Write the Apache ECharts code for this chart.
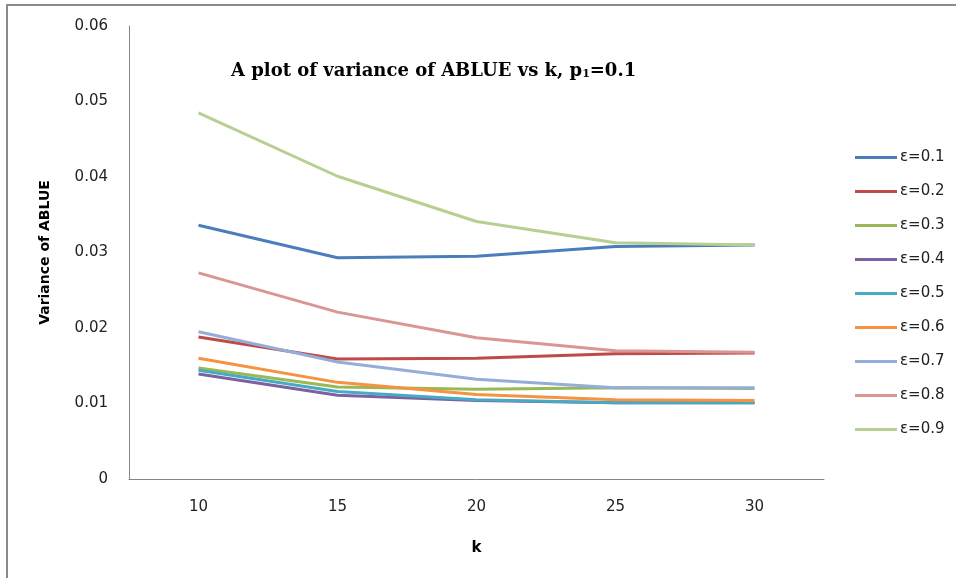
<!DOCTYPE html>
<html>
<head>
<meta charset="utf-8">
<script src="https://cdn.jsdelivr.net/npm/echarts@6/dist/echarts.min.js"></script>
<style>html,body{margin:0;padding:0;background:#fff}#c{width:956px;height:578px}</style>
</head>
<body>
<div id="c"></div>
<script>
const categories = ['10', '15', '20', '25', '30'];
const seriesNames = ['ε=0.1', 'ε=0.2', 'ε=0.3', 'ε=0.4', 'ε=0.5', 'ε=0.6', 'ε=0.7', 'ε=0.8', 'ε=0.9'];
const eps01 = [0.0336, 0.0293, 0.0295, 0.0308, 0.0310];
const eps02 = [0.0188, 0.0159, 0.0160, 0.0166, 0.0167];
const eps03 = [0.0147, 0.0122, 0.0119, 0.0121, 0.0120];
const eps04 = [0.0139, 0.0111, 0.0104, 0.0101, 0.0101];
const eps05 = [0.0144, 0.0116, 0.0105, 0.0101, 0.0101];
const eps06 = [0.0160, 0.0128, 0.0112, 0.0105, 0.0104];
const eps07 = [0.0195, 0.0155, 0.0132, 0.0121, 0.0121];
const eps08 = [0.0273, 0.0221, 0.0187, 0.0170, 0.0168];
const eps09 = [0.0485, 0.0401, 0.0341, 0.0313, 0.0310];
const yTicks = [0, 0.01, 0.02, 0.03, 0.04, 0.05, 0.06];
const allValues = [eps01, eps02, eps03, eps04, eps05, eps06, eps07, eps08, eps09];
const colors = ['#4A7EBB', '#BE4B48', '#98B954', '#7D60A0', '#46AAC5', '#F69240', '#94ADD9', '#D99694', '#B7CF92'];

const chart = echarts.init(document.getElementById('c'), null, {renderer: 'canvas'});
chart.setOption({
  backgroundColor: '#fff',
  animation: false,
  color: colors,
  graphic: [{
    type: 'rect', shape: {x: 7, y: 5, width: 980, height: 600},
    style: {fill: 'none', stroke: '#8a8a8a', lineWidth: 2}, silent: true, z: -1
  }],
  title: {
    text: '{t|A plot of variance of ABLUE vs k, p}{s|1}{t|=0.1}',
    left: 231, top: 62, padding: 0,
    textStyle: {
      rich: {
        t: {fontFamily: 'DejaVu Serif', fontWeight: 'bold', fontSize: 18, color: '#000'},
        s: {fontFamily: 'DejaVu Serif', fontWeight: 'bold', fontSize: 11, color: '#000', verticalAlign: 'bottom', padding: [7, 0, 0, 0]}
      }
    }
  },
  grid: {left: 129, right: 132, top: 26, bottom: 99, containLabel: false},
  legend: {
    orient: 'vertical', left: 855, top: 150, padding: 0,
    icon: 'rect', itemWidth: 42, itemHeight: 3, itemGap: 19,
    textStyle: {fontFamily: 'DejaVu Sans', fontSize: 15, color: '#222', padding: [0, 0, 0, -2]},
    data: seriesNames
  },
  xAxis: {
    type: 'category', data: categories, boundaryGap: true,
    axisLine: {show: true, lineStyle: {color: '#868686', width: 1}},
    axisTick: {show: false},
    axisLabel: {fontFamily: 'DejaVu Sans', fontSize: 15, color: '#222', margin: 21},
    name: 'k', nameLocation: 'middle', nameGap: 62,
    nameTextStyle: {fontFamily: 'DejaVu Sans', fontWeight: 'bold', fontSize: 15, color: '#000'}
  },
  yAxis: {
    type: 'value', min: 0, max: 0.06, interval: 0.01,
    axisLine: {show: true, lineStyle: {color: '#868686', width: 1}},
    axisTick: {show: false},
    splitLine: {show: false},
    axisLabel: {fontFamily: 'DejaVu Sans', fontSize: 15, color: '#222', margin: 21,
      formatter: v => { const t = yTicks.find(x => Math.abs(x - v) < 1e-9); return t === 0 ? '0' : (t !== undefined ? t.toFixed(2) : ''); }},
    name: 'Variance of ABLUE', nameLocation: 'middle', nameGap: 77, nameRotate: 90,
    nameTextStyle: {fontFamily: 'DejaVu Sans', fontWeight: 'bold', fontSize: 14, color: '#000'}
  },
  series: seriesNames.map((n, i) => ({
    name: n, type: 'line', data: allValues[i], symbol: 'none', smooth: false,
    lineStyle: {width: 3, color: colors[i]}, itemStyle: {color: colors[i]}, z: 2 + i
  }))
});
</script>
</body>
</html>
